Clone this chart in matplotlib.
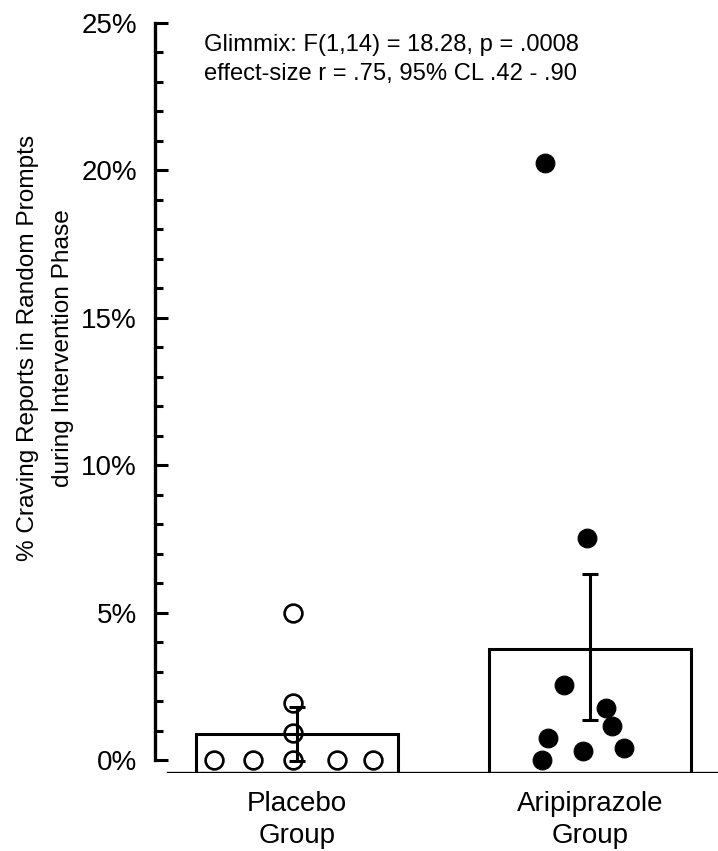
import matplotlib
matplotlib.use("Agg")
import matplotlib.pyplot as plt
from matplotlib.ticker import MultipleLocator, FuncFormatter

plt.rcParams["font.family"] = ["Liberation Sans", "DejaVu Sans"]

# group summary (percent)
groups = ["Placebo\nGroup", "Aripiprazole\nGroup"]
means = [0.88, 3.75]
err_lo = [0.92, 2.4]
err_hi = [0.92, 2.55]

# individual subjects: value (%) and horizontal jitter within each group
placebo_vals = [0.0, 0.0, 0.0, 0.0, 0.0, 0.93, 1.95, 5.0]
placebo_jit = [-0.283, -0.150, -0.014, 0.137, 0.259, -0.014, -0.014, -0.014]
arip_vals = [20.25, 7.52, 2.54, 1.75, 1.16, 0.74, 0.31, 0.40, 0.0]
arip_jit = [-0.155, -0.011, -0.088, 0.054, 0.074, -0.142, -0.025, 0.116, -0.163]

BASE = -0.44
xpos = [0, 1]

fig = plt.figure(figsize=(7.18, 8.51), dpi=100)
ax = fig.add_axes([155 / 718, 78 / 851, 563 / 718, 750 / 851])

ax.bar(xpos, [m - BASE for m in means], bottom=BASE, width=0.69,
       color="white", edgecolor="black", linewidth=2.2, zorder=1)
ax.errorbar(xpos, means, yerr=[err_lo, err_hi], fmt="none", ecolor="black",
            elinewidth=2.2, capsize=5.8, capthick=2.2, zorder=3)

ax.plot([xpos[0] + j for j in placebo_jit], placebo_vals, "o", ms=12.8,
        mfc="none", mec="black", mew=1.9, zorder=4)
ax.plot([xpos[1] + j for j in arip_jit], arip_vals, "o", ms=13.5,
        mfc="black", mec="black", mew=0.8, zorder=4)

ax.axhline(BASE, xmin=0.023, xmax=1.0, color="black", lw=2.4, zorder=2)

ax.set_xlim(-0.485, 1.437)
ax.set_ylim(BASE, 25)

for s in ["top", "right", "bottom"]:
    ax.spines[s].set_visible(False)
ax.spines["left"].set_linewidth(2.4)
ax.spines["left"].set_bounds(0, 25)

ax.yaxis.set_major_locator(MultipleLocator(5))
ax.yaxis.set_minor_locator(MultipleLocator(1))
ax.yaxis.set_major_formatter(FuncFormatter(lambda v, p: f"{v:.0f}%"))
ax.tick_params(axis="y", which="major", direction="in", length=9.4, width=2.2,
               labelsize=20, pad=13)
ax.tick_params(axis="y", which="minor", direction="in", length=5.8, width=2.2)

ax.set_xticks(xpos)
ax.set_xticklabels(groups, fontsize=20, linespacing=1.32)
ax.tick_params(axis="x", length=0, pad=13)

ax.text(-0.195, 0.567, "% Craving Reports in Random Prompts\nduring Intervention Phase",
        transform=ax.transAxes, rotation=90, ha="center", va="center",
        fontsize=17.6, linespacing=1.74, multialignment="center")

ax.text(0.087, 0.985, "Glimmix: F(1,14) = 18.28, p = .0008\neffect-size r = .75, 95% CL .42 - .90",
        transform=ax.transAxes, ha="left", va="top", fontsize=17.1, linespacing=1.38)

fig.savefig("out.png", dpi=100)
